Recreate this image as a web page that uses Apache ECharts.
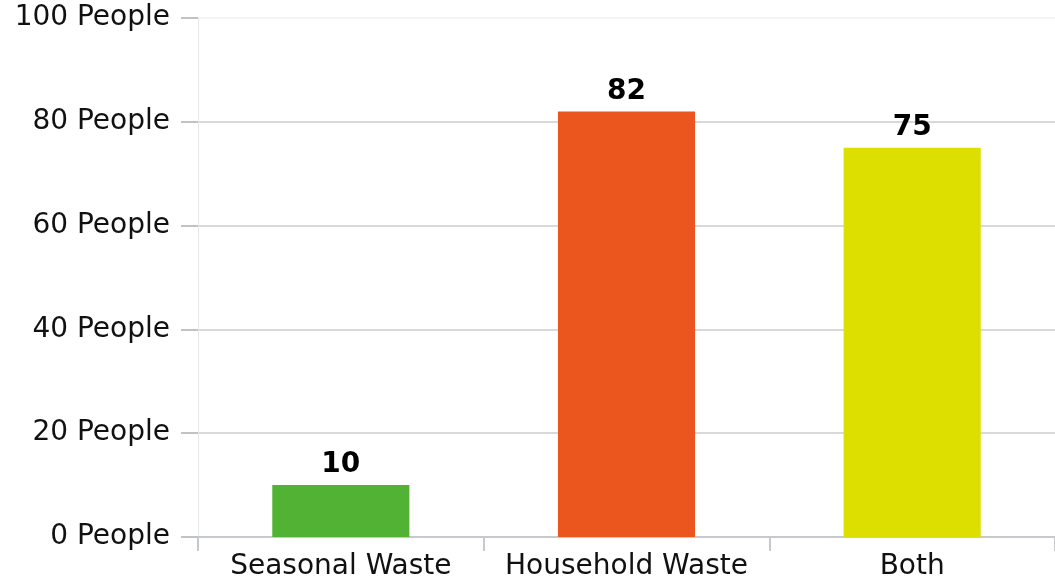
<!DOCTYPE html>
<html><head><meta charset="utf-8">
<script src="https://cdn.jsdelivr.net/npm/echarts@6/dist/echarts.min.js"></script>
<style>html,body{margin:0;padding:0;background:#fff}#c{width:1055px;height:578px}</style>
</head><body><div id="c"></div>
<script>
var categories = ['Seasonal Waste', 'Household Waste', 'Both'];
var values = [10, 82, 75];
var barColors = ['#52b234', '#eb561e', '#dcdf00'];
var yTicks = [0, 20, 40, 60, 80, 100];

var chart = echarts.init(document.getElementById('c'));
chart.setOption({
  animation: false,
  grid: { left: 198, top: 18, bottom: 41, right: 0, outerBoundsMode: 'none', containLabel: false },
  xAxis: {
    type: 'category',
    data: categories,
    axisLine: { lineStyle: { color: '#c6cacf', width: 2 } },
    axisTick: { show: true, interval: 0, length: 14, lineStyle: { color: '#c6cacf', width: 2 } },
    axisLabel: { interval: 0, color: '#111', fontFamily: 'DejaVu Sans', fontSize: 28, margin: 16 }
  },
  yAxis: {
    type: 'value',
    min: yTicks[0], max: yTicks[yTicks.length - 1], interval: 20,
    axisLine: { show: true, lineStyle: { color: '#e4e6e8', width: 1 } },
    axisTick: { show: true, length: 17, lineStyle: { color: '#bfc3c7', width: 2 } },
    axisLabel: { color: '#111', fontFamily: 'DejaVu Sans', fontSize: 28, margin: 28, padding: [6, 0, 0, 0],
      formatter: function (v) { return v + ' People'; } },
    splitLine: { show: true, lineStyle: { color: ['#cccccc', '#cccccc', '#cccccc', '#cccccc', '#cccccc', '#f0f0f0'], width: 1.5 } }
  },
  series: [{
    type: 'bar',
    barWidth: '48%',
    data: values.map(function (v, i) { return { value: v, itemStyle: { color: barColors[i] } }; }),
    label: { show: true, position: 'top', distance: 6, color: '#000', fontWeight: 'bold',
      fontFamily: 'DejaVu Sans', fontSize: 28 }
  }]
});
</script></body></html>
